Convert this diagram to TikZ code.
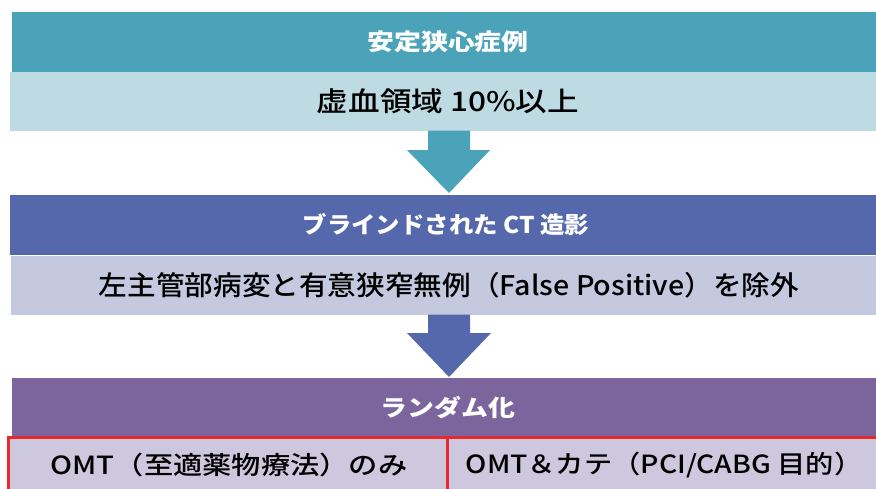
\documentclass[tikz,border=0pt]{standalone}
\usepackage{fontspec}
\usepackage{graphicx}
\newfontfamily\jp{Noto Sans CJK JP}
\newfontfamily\jpm{Noto Sans CJK JP}[UprightFont={* Medium}]
\definecolor{cteal}{RGB}{74,163,184}
\definecolor{clteal}{RGB}{190,219,228}
\definecolor{cblue}{RGB}{84,104,171}
\definecolor{clblue}{RGB}{197,201,223}
\definecolor{cpurple}{RGB}{124,101,157}
\definecolor{clpurple}{RGB}{205,200,221}
\definecolor{cred}{RGB}{232,40,44}
\newcommand{\hs}[2]{\scalebox{#1}[1]{#2}}
\begin{document}
\begin{tikzpicture}[x=1pt,y=-1pt,
  bar/.style={rectangle, inner sep=0pt, outer sep=0pt, minimum width=872, minimum height=60,
    text=white, font=\jp\bfseries\fontsize{23}{23}\selectfont},
  sub/.style={rectangle, inner sep=0pt, outer sep=0pt, minimum width=876, minimum height=59,
    text=black, font=\jpm\fontsize{27}{27}\selectfont},
  grp/.style={rectangle, inner sep=0pt, outer sep=0pt, minimum height=63, draw=cred, line width=3pt, fill=clpurple},
  grplabel/.style={inner sep=0pt, text=black, font=\jpm\fontsize{25}{25}\selectfont}
]
\useasboundingbox (0,0) rectangle (876,488);
\fill[white] (0,0) rectangle (876,488);

\node[bar, fill=cteal] (t1) at (448,42) {\hs{1.17}{安定狭心症例}};
\node[sub, fill=clteal] (t2) at (448,101) {\hs{1.17}{虚血領域 10\%以上}};

\node[bar, fill=cblue] (b1) at (446,225) {\hs{1.06}{ブラインドされた CT 造影}};
\node[sub, fill=clblue] (b2) at (449,285) {\hs{1.06}{左主管部病変と有意狭窄無例（False Positive）を除外}};

\node[bar, fill=cpurple, minimum height=59] (p1) at (448,407.5) {\hs{1.17}{ランダム化}};

\fill[cteal] (t2.south -| 428,0) -- (t2.south -| 470,0) -- (470,150) -- (490,150) -- (449,193) -- (407,150) -- (428,150) -- cycle;
\fill[cblue] (b2.south -| 428,0) -- (b2.south -| 470,0) -- (470,333) -- (491,333) -- (449,377) -- (407,333) -- (428,333) -- cycle;

\node[grp, minimum width=439] (r1) at (227.5,468.5) {};
\node[grp, minimum width=436] (r2) at (665,468.5) {};
\node[grplabel] (l1) at (229,465) {\hs{1.17}{OMT（至適薬物療法）のみ}};
\node[grplabel] (l2) at (664,465) {\hs{1.13}{OMT＆カテ（PCI/CABG 目的）}};
\end{tikzpicture}
\end{document}
